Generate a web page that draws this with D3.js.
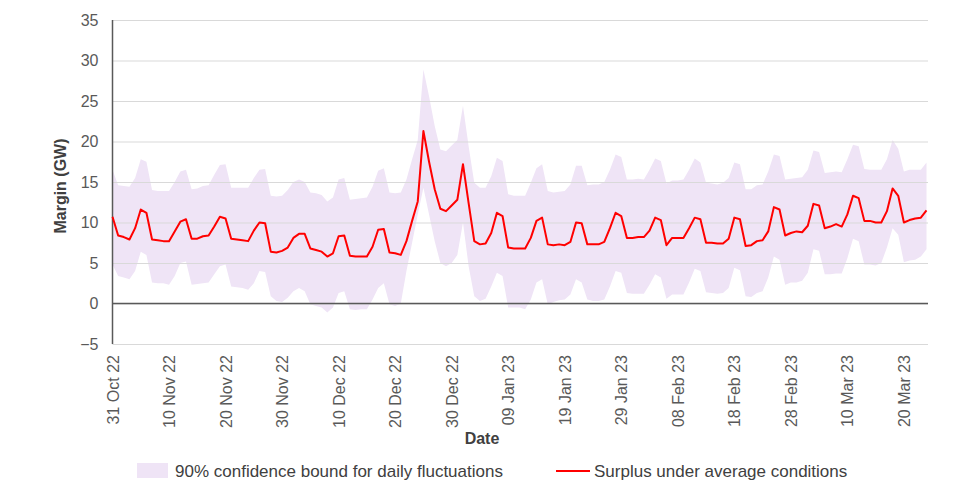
<!DOCTYPE html>
<html>
<head>
<meta charset="utf-8">
<script src="https://cdn.jsdelivr.net/npm/d3@7"></script>
<style>
body { margin: 0; background: #fff; }
text { font-family: "Liberation Sans", Arial, sans-serif; }
</style>
</head>
<body>
<script>
/*Original data: one value per day from 31 Oct 22*/
const startDate = "31 Oct 22"
const surplus = [
  10.7, 8.4, 8.2, 7.9, 9.3, 11.6, 11.2, 7.9, 7.8, 7.7, 7.7, 8.9, 10.1, 10.4, 8.0, 8.0, 8.3, 8.4, 9.5, 10.7, 10.5, 8.0, 7.9, 7.8, 7.7, 9.0, 10.0, 9.9,
  6.4, 6.3, 6.5, 6.9, 8.1, 8.6, 8.6, 6.8, 6.6, 6.4, 5.8, 6.2, 8.3, 8.4, 5.9, 5.8, 5.8, 5.8, 7.0, 9.1, 9.2, 6.3, 6.2, 6.0, 7.7, 10.2, 12.6,
  21.3, 17.5, 14.1, 11.7, 11.4, 12.1, 12.8, 17.2, 12.4, 7.7, 7.3, 7.4, 8.7, 11.2, 10.8, 6.9, 6.8, 6.8, 6.8, 8.1, 10.2, 10.6, 7.3, 7.2, 7.3,
  7.2, 7.6, 10.0, 9.9, 7.3, 7.3, 7.3, 7.6, 9.3, 11.2, 10.8, 8.1, 8.1, 8.2, 8.2, 9.0, 10.6, 10.3, 7.2, 8.1, 8.1, 8.1, 9.3, 10.6, 10.4, 7.5, 7.5, 7.4, 7.4, 8.0, 10.6, 10.4, 7.1,
  7.2, 7.7, 7.8, 8.9, 11.9, 11.6, 8.4, 8.7, 8.9, 8.8, 9.6, 12.3, 12.1, 9.3, 9.5, 9.8, 9.5, 11.0, 13.3, 13.0, 10.2, 10.2, 10.0, 10.0, 11.4, 14.2, 13.3, 10.0, 10.3, 10.5, 10.6, 11.5
]
const upperBound = [
  16.5, 14.6, 14.5, 14.4, 15.5, 17.8, 17.5, 14.0, 13.9, 13.9, 13.9, 15.0, 16.3, 16.5, 14.1, 14.2, 14.5, 14.6, 15.9, 17.1, 17.2, 14.3, 14.3, 14.3, 14.3, 15.5, 16.5, 16.6,
  13.3, 13.2, 13.3, 14.0, 15.0, 15.3, 15.0, 13.7, 13.6, 13.4, 12.6, 13.1, 15.3, 15.5, 12.8, 12.9, 13.0, 13.1, 14.4, 16.4, 16.7, 13.7, 13.6, 13.7, 15.3, 17.8, 20.2,
  28.9, 25.6, 21.9, 19.0, 18.8, 19.5, 20.2, 24.4, 19.4, 14.9, 14.3, 14.3, 15.7, 18.0, 17.6, 13.5, 13.3, 13.3, 13.3, 14.9, 16.7, 17.2, 13.9, 13.7, 13.8,
  13.9, 14.7, 17.0, 17.0, 14.6, 14.7, 14.7, 15.0, 16.5, 18.4, 18.1, 15.3, 15.3, 15.4, 15.3, 16.5, 17.9, 17.6, 14.8, 15.2, 15.2, 15.3, 16.5, 17.9, 17.4, 14.9, 14.8, 14.7, 14.9, 15.5, 17.4, 17.2, 14.1,
  14.1, 14.6, 14.7, 16.3, 18.4, 18.2, 15.3, 15.4, 15.5, 15.6, 16.5, 18.9, 18.7, 16.1, 16.2, 16.3, 16.2, 17.8, 19.6, 19.4, 16.6, 16.5, 16.5, 16.5, 17.8, 20.2, 19.1, 16.3, 16.5, 16.5, 16.5, 17.4
]
const lowerBound = [
  4.8, 3.4, 3.2, 3.0, 4.0, 6.4, 6.0, 2.6, 2.5, 2.5, 2.3, 3.4, 5.0, 5.2, 2.3, 2.4, 2.5, 2.6, 3.6, 4.6, 4.8, 2.1, 2.0, 1.9, 1.7, 2.5, 4.0, 3.9,
  0.9, 0.3, 0.2, 0.7, 1.5, 1.9, 1.5, -0.1, -0.3, -0.5, -1.1, -0.5, 1.3, 1.5, -0.7, -0.8, -0.7, -0.7, 0.5, 1.9, 2.5, -0.1, -0.3, 0.0, 4.0, 7.5, 11.0,
  14.3, 11.0, 7.7, 5.0, 4.6, 5.0, 6.0, 10.0, 4.6, 0.9, 0.3, 0.6, 2.1, 3.8, 3.4, -0.5, -0.5, -0.5, -0.7, 0.5, 2.6, 3.0, -0.1, 0.2, 0.4,
  0.5, 1.1, 3.0, 2.6, 0.5, 0.3, 0.3, 0.5, 2.1, 4.0, 3.8, 1.3, 1.2, 1.2, 1.2, 2.3, 3.6, 3.2, 0.6, 1.1, 1.1, 1.1, 2.6, 4.3, 4.0, 1.4, 1.3, 1.2, 1.3, 1.9, 4.4, 4.1, 0.9,
  0.8, 1.3, 1.5, 3.2, 5.8, 5.4, 2.3, 2.6, 2.6, 2.8, 3.8, 6.7, 6.5, 3.6, 3.6, 3.7, 3.7, 5.6, 8.0, 7.7, 4.8, 4.8, 4.7, 5.0, 6.9, 9.3, 8.5, 5.1, 5.3, 5.4, 5.8, 6.7
]
const xTickLabels = ['31 Oct 22', '10 Nov 22', '20 Nov 22', '30 Nov 22', '10 Dec 22', '20 Dec 22', '30 Dec 22',
  '09 Jan 23', '19 Jan 23', '29 Jan 23', '08 Feb 23', '18 Feb 23', '28 Feb 23', '10 Mar 23', '20 Mar 23']
const yTicks = [-5, 0, 5, 10, 15, 20, 25, 30, 35]

/*canvas size*/
const width = 959;
const height = 496;
const plot = { left: 112.5, right: 926.5, top: 20, bottom: 344, gridEnd: 928 };

const parseDate = d3.utcParse("%d %b %y")
const formatDate = d3.utcFormat("%d %b %y")
const day0 = parseDate(startDate)
const data = surplus.map((v, i) => ({ date: d3.utcDay.offset(day0, i), value: v, hi: upperBound[i], lo: lowerBound[i] }))

/*set canvas*/
const svg = d3.select('body').append('svg')
      .attr('width', width).attr('height', height);

/*scales*/
const xScale = d3.scaleUtc()
      .domain(d3.extent(data, d => d.date)).range([plot.left, plot.right])
const yScale = d3.scaleLinear()
      .domain([-5, 35]).range([plot.bottom, plot.top])

/*confidence band*/
svg.append("path").datum(data)
   .attr("fill", "#efe4f6")
   .attr("d", d3.area().x(d => xScale(d.date)).y0(d => yScale(d.lo)).y1(d => yScale(d.hi)))

/*y axis with gridlines*/
const yAxis = svg.append("g").attr("class", "yAxis")
   .attr("transform", "translate(" + plot.left + ",0)")
   .call(d3.axisLeft(yScale).tickValues(yTicks).tickSize(-(plot.gridEnd - plot.left)).tickPadding(14))
yAxis.select(".domain").remove()
yAxis.selectAll("line").attr("stroke", "#d9d9d9").attr("stroke-width", 1)
yAxis.selectAll("text").attr("fill", "#595959").attr("font-size", 16)

/*zero line and vertical axis line*/
svg.append("line")
   .attr("x1", plot.left).attr("x2", plot.gridEnd)
   .attr("y1", yScale(0)).attr("y2", yScale(0))
   .attr("stroke", "#595959").attr("stroke-width", 1.5)
svg.append("line")
   .attr("x1", plot.left).attr("x2", plot.left)
   .attr("y1", plot.top).attr("y2", plot.bottom)
   .attr("stroke", "#595959").attr("stroke-width", 1.5)

/*x axis, labels turned on their side*/
const xAxis = svg.append("g").attr("class", "xAxis")
   .attr("transform", "translate(0," + plot.bottom + ")")
   .call(d3.axisBottom(xScale).tickValues(xTickLabels.map(parseDate)).tickSize(0).tickFormat(formatDate))
xAxis.select(".domain").remove()
xAxis.selectAll("text")
   .attr("transform", "rotate(-90)")
   .attr("text-anchor", "end")
   .attr("x", -11).attr("y", 0).attr("dy", "0.35em")
   .attr("fill", "#595959").attr("font-size", 16)

/*surplus line*/
svg.append("path").datum(data)
   .attr("fill", "none").attr("stroke", "#ff0000").attr("stroke-width", 2)
   .attr("stroke-linejoin", "round")
   .attr("d", d3.line().x(d => xScale(d.date)).y(d => yScale(d.value)))

/*axis titles*/
svg.append("text")
   .attr("transform", "translate(66," + ((plot.top + plot.bottom) / 2 + 4) + ") rotate(-90)")
   .attr("text-anchor", "middle").attr("font-size", 16).attr("font-weight", "bold")
   .attr("fill", "#404040").text("Margin (GW)")
svg.append("text")
   .attr("x", 482).attr("y", 444)
   .attr("text-anchor", "middle").attr("font-size", 16).attr("font-weight", "bold")
   .attr("fill", "#404040").text("Date")

/*legend*/
const legend = svg.append("g").attr("class", "legend")
legend.append("rect").attr("x", 137).attr("y", 463).attr("width", 31).attr("height", 15).attr("fill", "#efe4f6")
legend.append("text").attr("x", 175).attr("y", 477).attr("font-size", 17).attr("fill", "#404040")
   .text("90% confidence bound for daily fluctuations")
legend.append("line").attr("x1", 556).attr("x2", 590).attr("y1", 471).attr("y2", 471)
   .attr("stroke", "#ff0000").attr("stroke-width", 2)
legend.append("text").attr("x", 594).attr("y", 477).attr("font-size", 17).attr("fill", "#404040")
   .text("Surplus under average conditions")
</script>
</body>
</html>
